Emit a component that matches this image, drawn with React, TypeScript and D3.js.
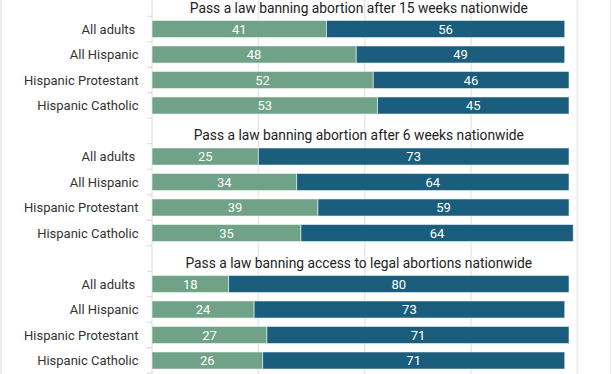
import * as d3 from "d3";

const questions = [
  "Pass a law banning abortion after 15 weeks nationwide",
  "Pass a law banning abortion after 6 weeks nationwide",
  "Pass a law banning access to legal abortions nationwide",
];
const groups = ["All adults ", "All Hispanic", "Hispanic Protestant", "Hispanic Catholic"];

// favor / oppose per question, same order as groups
const favor = [
  [41, 48, 52, 53],
  [25, 34, 39, 35],
  [18, 24, 27, 26],
];
const oppose = [
  [56, 49, 46, 45],
  [73, 64, 59, 64],
  [80, 73, 71, 71],
];
const gridTicks = [25, 50, 75, 100];

const W = 612;
const H = 374;
const GREEN = "#6fa287";
const BLUE = "#1a5d7c";
const FONT = "Roboto, 'Noto Sans', sans-serif";

interface Row {
  key: string;
  kind: "title" | "bar";
  label: string;
  fav?: number;
  opp?: number;
}

export default function App() {
  const rows: Row[] = [];
  questions.forEach((q, qi) => {
    rows.push({ key: `t${qi}`, kind: "title", label: q });
    groups.forEach((g, gi) =>
      rows.push({
        key: `b${qi}-${gi}`,
        kind: "bar",
        label: g,
        fav: favor[qi][gi],
        opp: oppose[qi][gi],
      }),
    );
  });

  const x = d3.scaleLinear().domain([0, 100]).range([152, 577.5]);
  const y = d3
    .scaleBand()
    .domain(rows.map((r) => r.key))
    .range([-9.25, 373.25])
    .padding(0);
  const bw = y.bandwidth();
  const barH = bw * 0.67;

  return (
    <svg
      width={W}
      height={H}
      style={{ position: "absolute", left: 0, top: 0, background: "#fff" }}
      fontFamily={FONT}
    >
      {/* frame-ish lines */}
      <line x1={1} x2={1} y1={0} y2={H} stroke="#e6e6e6" strokeWidth={1.5} />
      <line x1={610.5} x2={610.5} y1={0} y2={H} stroke="#ededed" strokeWidth={1.5} />

      {gridTicks.map((t) => (
        <line key={t} x1={x(t)} x2={x(t)} y1={0} y2={H} stroke="#e8e8e8" strokeWidth={1.5} />
      ))}
      <line x1={x(0)} x2={x(0)} y1={0} y2={H} stroke="#dcdcdc" strokeWidth={1} />
      {rows.map((r) => (
        <line
          key={`tk${r.key}`}
          x1={x(0) - 5}
          x2={x(0)}
          y1={(y(r.key) ?? 0) + bw}
          y2={(y(r.key) ?? 0) + bw}
          stroke="#d6d6d6"
        />
      ))}

      {rows.map((r) => {
        const cy = (y(r.key) ?? 0) + bw / 2;
        if (r.kind === "title") {
          return (
            <text
              key={r.key}
              x={x(48.6)}
              y={cy + 9}
              textAnchor="middle"
              fontSize={13.8}
              fill="#222"
            >
              {r.label}
            </text>
          );
        }
        const f = r.fav ?? 0;
        const o = r.opp ?? 0;
        return (
          <g key={r.key}>
            <text
              x={138.5}
              y={cy}
              dy="0.35em"
              textAnchor="end"
              fontSize={13}
              fill="#333"
              style={{ whiteSpace: "pre" }}
            >
              {r.label}
            </text>
            <rect
              x={x(0)}
              y={cy - barH / 2}
              width={x(f) - x(0)}
              height={barH}
              fill={GREEN}
              stroke="rgba(255,255,255,0.55)"
              strokeWidth={1}
            />
            <rect
              x={x(f)}
              y={cy - barH / 2}
              width={x(f + o) - x(f)}
              height={barH}
              fill={BLUE}
              stroke="rgba(255,255,255,0.55)"
              strokeWidth={1}
            />
            <text
              x={(x(0) + x(f)) / 2}
              y={cy}
              dy="0.35em"
              textAnchor="middle"
              fontSize={13}
              fill="#fff"
            >
              {f}
            </text>
            <text
              x={(x(f) + x(f + o)) / 2}
              y={cy}
              dy="0.35em"
              textAnchor="middle"
              fontSize={13}
              fill="#fff"
            >
              {o}
            </text>
          </g>
        );
      })}
    </svg>
  );
}
